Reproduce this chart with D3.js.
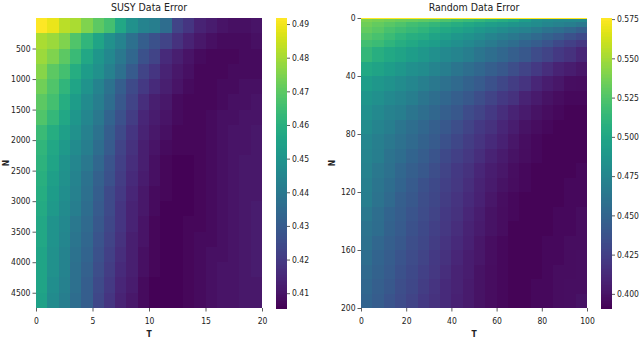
<!DOCTYPE html>
<html><head><meta charset="utf-8">
<script src="https://cdn.jsdelivr.net/npm/d3@7"></script>
<style>
html,body{margin:0;padding:0;background:#fff;}
svg text{font-family:"DejaVu Sans Condensed","DejaVu Sans",sans-serif;fill:#222;}
</style></head>
<body><svg id="c" width="640" height="340"></svg>
<script>
// ---------- SUSY data (rows: N, columns: T) ----------
const susyT = [1,2,3,4,5,6,7,8,9,10,11,12,13,14,15,16,17,18,19,20];
const susyN = [250,500,750,1000,1250,1500,1750,2000,2250,2500,2750,3000,3250,3500,3750,4000,4250,4500,4750];
const susyErr = [
[0.492,0.489,0.483,0.481,0.475,0.470,0.466,0.457,0.449,0.444,0.442,0.436,0.423,0.419,0.414,0.412,0.410,0.409,0.409,0.410],
[0.481,0.479,0.475,0.468,0.462,0.456,0.449,0.444,0.437,0.431,0.427,0.423,0.418,0.414,0.411,0.409,0.408,0.408,0.408,0.409],
[0.479,0.475,0.470,0.464,0.457,0.451,0.446,0.440,0.434,0.427,0.423,0.416,0.413,0.410,0.408,0.407,0.407,0.407,0.408,0.408],
[0.476,0.470,0.466,0.459,0.453,0.449,0.443,0.437,0.430,0.423,0.419,0.414,0.411,0.409,0.407,0.407,0.407,0.408,0.408,0.408],
[0.473,0.468,0.462,0.456,0.450,0.444,0.438,0.431,0.425,0.420,0.416,0.413,0.410,0.408,0.407,0.407,0.408,0.408,0.409,0.409],
[0.470,0.466,0.459,0.453,0.447,0.442,0.436,0.429,0.423,0.417,0.413,0.411,0.408,0.407,0.407,0.407,0.408,0.409,0.409,0.410],
[0.468,0.463,0.457,0.451,0.445,0.440,0.433,0.427,0.421,0.415,0.412,0.410,0.408,0.407,0.407,0.408,0.409,0.409,0.410,0.410],
[0.464,0.459,0.454,0.449,0.443,0.438,0.431,0.425,0.419,0.414,0.411,0.409,0.407,0.407,0.407,0.408,0.409,0.410,0.410,0.411],
[0.462,0.457,0.452,0.447,0.442,0.436,0.430,0.423,0.418,0.413,0.410,0.408,0.407,0.407,0.407,0.408,0.409,0.410,0.410,0.411],
[0.461,0.456,0.450,0.445,0.440,0.434,0.428,0.422,0.417,0.413,0.409,0.407,0.406,0.406,0.407,0.408,0.409,0.410,0.411,0.411],
[0.460,0.454,0.449,0.444,0.438,0.432,0.427,0.421,0.416,0.412,0.409,0.407,0.406,0.406,0.407,0.408,0.409,0.410,0.411,0.411],
[0.459,0.453,0.448,0.443,0.437,0.431,0.425,0.420,0.415,0.411,0.408,0.407,0.406,0.406,0.407,0.408,0.409,0.410,0.411,0.411],
[0.458,0.452,0.447,0.442,0.436,0.430,0.425,0.419,0.414,0.411,0.408,0.406,0.406,0.406,0.407,0.408,0.409,0.410,0.411,0.412],
[0.457,0.450,0.446,0.440,0.435,0.429,0.424,0.419,0.414,0.410,0.407,0.406,0.406,0.407,0.407,0.408,0.409,0.410,0.411,0.412],
[0.457,0.450,0.445,0.439,0.434,0.428,0.423,0.418,0.413,0.410,0.407,0.406,0.406,0.407,0.408,0.408,0.409,0.410,0.411,0.412],
[0.456,0.449,0.444,0.438,0.433,0.427,0.422,0.417,0.413,0.409,0.407,0.406,0.406,0.407,0.408,0.409,0.409,0.410,0.411,0.412],
[0.456,0.449,0.444,0.437,0.432,0.426,0.421,0.416,0.413,0.409,0.407,0.406,0.406,0.407,0.408,0.409,0.410,0.410,0.411,0.412],
[0.456,0.448,0.443,0.437,0.431,0.425,0.420,0.415,0.412,0.408,0.406,0.406,0.406,0.407,0.408,0.409,0.410,0.410,0.411,0.411],
[0.455,0.447,0.442,0.436,0.431,0.424,0.419,0.414,0.411,0.408,0.406,0.406,0.406,0.407,0.408,0.409,0.410,0.410,0.411,0.411]
];
const susyXTicks = [0,5,10,15,20];
const susyYTicks = [500,1000,1500,2000,2500,3000,3500,4000,4500];
const susyCbTicks = [0.41,0.42,0.43,0.44,0.45,0.46,0.47,0.48,0.49];
const susyCbDomain = [0.4056,0.4918];

// ---------- Random data (rows: N band upper edge, columns: T band upper edge) ----------
const randT = [5,10,15,20,25,30,35,40,45,50,55,60,65,70,75,80,85,90,95,100];
const randN = [1,3,6,10,15,20,30,40,50,60,70,80,90,100,110,120,130,140,150,160,170,180,190,200];
const randErr = [
[0.575,0.575,0.575,0.575,0.575,0.575,0.575,0.575,0.575,0.575,0.575,0.575,0.575,0.575,0.575,0.575,0.575,0.575,0.575,0.575],
[0.539,0.537,0.535,0.533,0.531,0.530,0.528,0.524,0.520,0.517,0.513,0.509,0.506,0.502,0.493,0.483,0.480,0.478,0.478,0.478],
[0.535,0.531,0.528,0.524,0.520,0.517,0.513,0.509,0.506,0.502,0.498,0.494,0.491,0.487,0.483,0.480,0.476,0.472,0.469,0.465],
[0.531,0.528,0.522,0.518,0.515,0.511,0.506,0.502,0.498,0.494,0.489,0.485,0.480,0.476,0.472,0.467,0.461,0.457,0.452,0.446],
[0.526,0.522,0.517,0.511,0.507,0.504,0.498,0.494,0.489,0.485,0.480,0.474,0.469,0.465,0.459,0.454,0.448,0.443,0.437,0.432],
[0.520,0.517,0.511,0.506,0.502,0.496,0.493,0.487,0.482,0.478,0.472,0.467,0.461,0.456,0.450,0.445,0.439,0.432,0.426,0.421],
[0.513,0.507,0.502,0.498,0.493,0.489,0.483,0.478,0.474,0.469,0.463,0.457,0.452,0.446,0.441,0.433,0.428,0.422,0.417,0.411],
[0.502,0.498,0.493,0.489,0.483,0.480,0.474,0.469,0.463,0.457,0.452,0.446,0.441,0.435,0.428,0.422,0.415,0.409,0.406,0.402],
[0.493,0.489,0.485,0.480,0.476,0.470,0.465,0.459,0.454,0.448,0.443,0.437,0.430,0.424,0.419,0.411,0.406,0.402,0.398,0.397],
[0.487,0.483,0.478,0.474,0.469,0.463,0.457,0.452,0.446,0.441,0.435,0.428,0.422,0.417,0.409,0.404,0.400,0.397,0.395,0.395],
[0.483,0.478,0.472,0.469,0.463,0.457,0.452,0.446,0.441,0.433,0.428,0.422,0.415,0.409,0.404,0.400,0.397,0.395,0.393,0.393],
[0.480,0.474,0.469,0.463,0.457,0.452,0.446,0.441,0.435,0.428,0.422,0.417,0.411,0.406,0.400,0.397,0.395,0.393,0.393,0.393],
[0.476,0.470,0.465,0.459,0.454,0.448,0.443,0.437,0.430,0.424,0.419,0.413,0.408,0.402,0.398,0.395,0.393,0.393,0.393,0.393],
[0.474,0.469,0.461,0.456,0.450,0.445,0.439,0.432,0.426,0.421,0.415,0.409,0.404,0.400,0.397,0.395,0.393,0.393,0.393,0.393],
[0.472,0.465,0.459,0.452,0.446,0.441,0.435,0.428,0.422,0.417,0.411,0.406,0.402,0.398,0.395,0.393,0.393,0.393,0.393,0.395],
[0.470,0.463,0.456,0.450,0.443,0.437,0.432,0.426,0.421,0.415,0.409,0.404,0.400,0.397,0.395,0.393,0.393,0.393,0.395,0.395],
[0.469,0.461,0.454,0.446,0.441,0.435,0.430,0.424,0.419,0.413,0.408,0.402,0.398,0.395,0.393,0.393,0.393,0.393,0.395,0.395],
[0.465,0.457,0.450,0.445,0.439,0.433,0.428,0.422,0.417,0.411,0.406,0.400,0.397,0.395,0.393,0.393,0.393,0.395,0.395,0.397],
[0.461,0.456,0.448,0.443,0.437,0.432,0.426,0.421,0.415,0.409,0.404,0.400,0.397,0.393,0.393,0.393,0.393,0.395,0.395,0.397],
[0.459,0.452,0.446,0.441,0.435,0.430,0.424,0.419,0.413,0.408,0.402,0.398,0.395,0.393,0.393,0.393,0.395,0.395,0.397,0.397],
[0.457,0.450,0.445,0.439,0.433,0.428,0.422,0.417,0.411,0.406,0.402,0.398,0.395,0.393,0.393,0.393,0.395,0.395,0.397,0.398],
[0.454,0.448,0.443,0.437,0.432,0.426,0.421,0.415,0.409,0.406,0.400,0.397,0.395,0.393,0.393,0.393,0.395,0.397,0.397,0.398],
[0.452,0.446,0.441,0.435,0.430,0.424,0.419,0.413,0.409,0.404,0.400,0.397,0.395,0.393,0.393,0.395,0.395,0.397,0.398,0.398],
[0.450,0.445,0.439,0.433,0.428,0.422,0.417,0.413,0.408,0.404,0.400,0.397,0.395,0.393,0.393,0.395,0.395,0.397,0.398,0.400]
];
const randXTicks = [0,20,40,60,80,100];
const randYTicks = [0,40,80,120,160,200];
const randCbTicks = [0.400,0.425,0.450,0.475,0.500,0.525,0.550,0.575];
const randCbDomain = [0.391,0.5757];

const svg = d3.select("#c");
const FONT = '"DejaVu Sans Condensed","DejaVu Sans",sans-serif';

function heatmap(opt){
  const g = svg.append("g");
  const x = d3.scaleLinear().domain(opt.xDomain).range([opt.x0, opt.x1]);
  const y = d3.scaleLinear().domain(opt.yDomain).range([opt.y0, opt.y1]);
  const color = d3.scaleSequential(d3.interpolateViridis).domain(opt.cbDomain);
  const cells = [];
  opt.rows.forEach((rv,i)=>{
    const yTop = i===0 ? opt.yDomain[0] : opt.rows[i-1];
    opt.cols.forEach((cv,j)=>{
      const xL = j===0 ? opt.xDomain[0] : opt.cols[j-1];
      cells.push({xL, xR:cv, yT:yTop, yB:rv, v:opt.data[i][j]});
    });
  });
  g.selectAll("rect.cell").data(cells).join("rect")
    .attr("class","cell")
    .attr("x", d=>x(d.xL)).attr("y", d=>y(d.yT))
    .attr("width", d=>x(d.xR)-x(d.xL)+0.4)
    .attr("height", d=>y(d.yB)-y(d.yT)+0.4)
    .attr("fill", d=>color(d.v))
    .attr("shape-rendering","crispEdges");

  const xAxis = d3.axisBottom(x).tickValues(opt.xTicks).tickSize(3.5).tickPadding(6).tickFormat(d3.format("d"));
  const gx = g.append("g").attr("transform",`translate(0,${opt.y1})`).call(xAxis);
  const yAxis = d3.axisLeft(y).tickValues(opt.yTicks).tickSize(3.5).tickPadding(2).tickFormat(d3.format("d"));
  const gy = g.append("g").attr("transform",`translate(${opt.x0},0)`).call(yAxis);
  [gx,gy].forEach(a=>{
    a.select(".domain").remove();
    a.selectAll("line").attr("stroke","#333").attr("stroke-width",0.8);
    a.selectAll("text").attr("font-size","8.5px").attr("fill","#222").style("font-family",FONT);
  });

  g.append("text").attr("x",(opt.x0+opt.x1)/2).attr("y",11).attr("text-anchor","middle")
    .attr("font-size","10.5px").text(opt.title);
  g.append("text").attr("x",(opt.x0+opt.x1)/2).attr("y",337).attr("text-anchor","middle")
    .attr("font-size","8.5px").attr("font-weight","bold").text("T");
  g.append("text").attr("transform",`translate(${opt.nx},${(opt.y0+opt.y1)/2}) rotate(-90)`)
    .attr("text-anchor","middle").attr("font-size","8.5px").attr("font-weight","bold").text("N");

  // colorbar
  const cy = d3.scaleLinear().domain(opt.cbDomain).range([opt.y1, opt.y0]);
  const steps = d3.range(0, 200);
  const [lo, hi] = opt.cbDomain;
  g.selectAll("rect.cb").data(steps).join("rect").attr("class","cb")
    .attr("x", opt.cbx).attr("width", opt.cbw)
    .attr("y", i=>cy(lo + (hi-lo)*(i+1)/200))
    .attr("height", i=>cy(lo + (hi-lo)*i/200) - cy(lo + (hi-lo)*(i+1)/200) + 0.5)
    .attr("fill", i=>d3.interpolateViridis((i+0.5)/200))
    .attr("shape-rendering","crispEdges");
  const cAxis = d3.axisRight(cy).tickValues(opt.cbTicks).tickSize(3).tickPadding(2).tickFormat(d3.format(opt.cbFmt));
  const gc = g.append("g").attr("transform",`translate(${opt.cbx+opt.cbw},0)`).call(cAxis);
  gc.select(".domain").remove();
  gc.selectAll("line").attr("stroke","#333").attr("stroke-width",0.8);
  gc.selectAll("text").attr("font-size","8.5px").attr("fill","#222").style("font-family",FONT);
}

heatmap({title:"SUSY Data Error", rows:susyN, cols:susyT, data:susyErr,
  xDomain:[0,20], yDomain:[0,4750], x0:36, x1:262, y0:18, y1:308,
  xTicks:susyXTicks, yTicks:susyYTicks, cbDomain:susyCbDomain, cbTicks:susyCbTicks, cbFmt:".2f",
  cbx:276, cbw:11, nx:9});

heatmap({title:"Random Data Error", rows:randN, cols:randT, data:randErr,
  xDomain:[0,100], yDomain:[0,200], x0:361, x1:587, y0:18, y1:308,
  xTicks:randXTicks, yTicks:randYTicks, cbDomain:randCbDomain, cbTicks:randCbTicks, cbFmt:".3f",
  cbx:601, cbw:11, nx:335});
</script></body></html>
